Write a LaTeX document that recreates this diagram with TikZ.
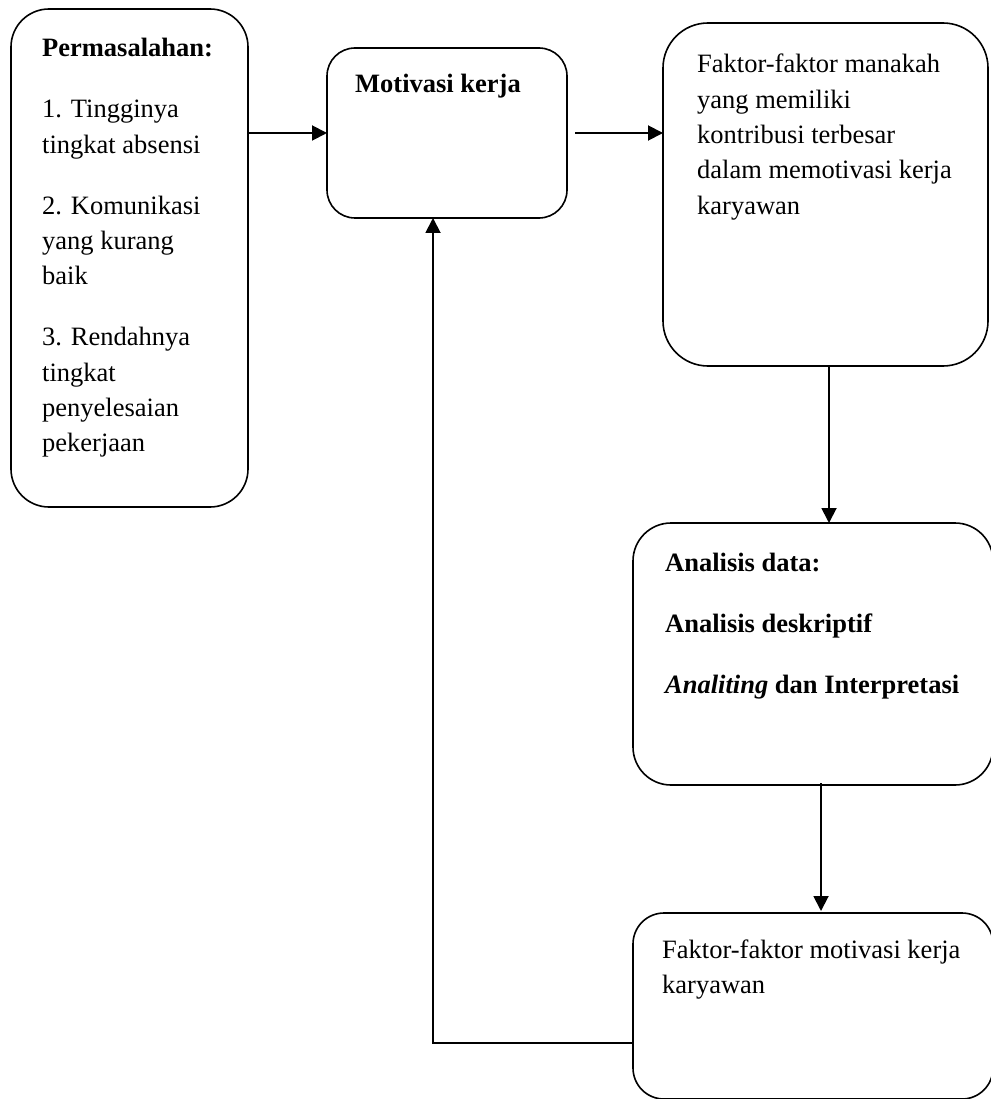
\documentclass[tikz,border=0pt]{standalone}
\usepackage{fontspec}
\setmainfont{Liberation Serif}
\usetikzlibrary{arrows.meta}
\begin{document}
\begin{tikzpicture}[x=1pt,y=-1pt,
  box/.style={draw, line width=1.6pt, rounded corners=#1, inner sep=0pt, outer sep=0pt, anchor=north west},
  txt/.style={anchor=base west, inner sep=0pt, font=\fontsize{26.5}{35.3}\selectfont},
  arr/.style={line width=1.9pt, -{Triangle[length=15pt,width=15pt]}}]
\useasboundingbox (0,0) rectangle (990,1099);
% boxes
\node[box=38, minimum width=237pt, minimum height=498pt] (A) at (11,9) {};
\node[box=28, minimum width=240pt, minimum height=170pt] (B) at (327,48) {};
\node[box=45, minimum width=325pt, minimum height=343pt] (C) at (663,23) {};
\node[box=38, minimum width=360pt, minimum height=262pt] (D) at (633,523) {};
\node[box=31, minimum width=360pt, minimum height=186pt] (E) at (633,913) {};
% texts
\node[txt] (At) at (42,57) {\parbox[t]{300pt}{\textbf{Permasalahan:}\\[25.7pt]
  1. Tingginya\\ tingkat absensi\\[25.7pt]
  2. Komunikasi\\ yang kurang\\ baik\\[25.7pt]
  3. Rendahnya\\ tingkat\\ penyelesaian\\ pekerjaan}};
\node[txt] (Bt) at (355,93) {\textbf{Motivasi kerja}};
\node[txt] (Ct) at (697,73) {\parbox[t]{300pt}{Faktor-faktor manakah\\ yang memiliki\\ kontribusi terbesar\\ dalam memotivasi kerja\\ karyawan}};
\node[txt] (Dt) at (665,571) {\parbox[t]{330pt}{\textbf{Analisis data:}\\[25.7pt]
  \textbf{Analisis deskriptif}\\[25.7pt]
  \textbf{\textit{Analiting} dan Interpretasi}}};
\node[txt] (Et) at (662,958) {\parbox[t]{330pt}{Faktor-faktor motivasi kerja\\ karyawan}};
% connectors
\draw[arr] (A.east |- B.west) -- (B.west);
\draw[arr] ([xshift=8pt]B.east) -- (C.west |- B.east);
\draw[arr] ([xshift=3.5pt]C.south) -- ([xshift=3.5pt]C.south |- D.north);
\draw[arr] ([xshift=8pt,yshift=2pt]D.south) -- ([xshift=8pt,yshift=2pt]D.south |- E.north);
\coordinate (r) at (433,1043);
\draw[arr] (E.west |- r) -- (r) -- (r |- B.south);
\end{tikzpicture}
\end{document}
